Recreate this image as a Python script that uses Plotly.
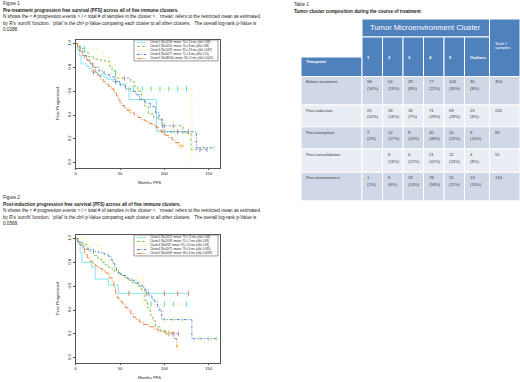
import numpy as np
import plotly.graph_objects as go

W, H = 520, 382
FONT = "Liberation Sans"

# ---------------- data ----------------
clusters = ["Cluster1", "Cluster2", "Cluster3", "Cluster4", "Cluster5"]
colors = ["#86E6F0", "#86C35A", "#FFE17A", "#4F86D8", "#E9864A"]
dashes = ["solid", "3px,2px", "1px,1.5px", "3px,1.5px,1px,1.5px", "5px,1.5px,1px,1.5px"]

pre_legend = [
    "Cluster1 (N=20/58, rmean: 70+/-10 mo, pVal: 0.88)",
    "Cluster2 (N=30/54, rmean: 70+/-8 mo, pVal: 0.88)",
    "Cluster3 (N=10/29, rmean: 95+/-13 mo, pVal: 0.087)",
    "Cluster4 (N=40/77, rmean: 71+/-6 mo, pVal: 0.51)",
    "Cluster5 (N=68/106, rmean: 58+/-5 mo, pVal: 0.0021)",
]
post_legend = [
    "Cluster1 (N=10/25, rmean: 79+/-11 mo, pVal: 0.88)",
    "Cluster2 (N=20/39, rmean: 71+/-7 mo, pVal: 0.83)",
    "Cluster3 (N=8/18, rmean: 91+/-10 mo, pVal: 0.28)",
    "Cluster4 (N=40/71, rmean: 79+/-6 mo, pVal: 0.095)",
    "Cluster5 (N=40/69, rmean: 58+/-6 mo, pVal: 0.0039)",
]

# Figure 1: pre-treatment PFS (months, fraction progression-free)
pre_c1_t = [0, 2, 4, 6, 12, 15, 18, 24, 30, 36, 42, 50, 56, 60, 91, 127]
pre_c1_s = [1.0, 0.95, 0.90, 0.83, 0.81, 0.79, 0.76, 0.74, 0.72, 0.70, 0.68, 0.66, 0.62, 0.53, 0.26, 0.26]
pre_c2_t = [0, 3, 6, 10, 14, 20, 28, 33, 38, 41, 45, 62, 66, 70, 74, 78, 82, 88, 97, 121, 130, 148]
pre_c2_s = [1.0, 0.98, 0.96, 0.93, 0.89, 0.87, 0.86, 0.85, 0.81, 0.77, 0.71, 0.68, 0.64, 0.60, 0.53, 0.47, 0.41, 0.375, 0.31, 0.25, 0.11, 0.11]
pre_c3_t = [0, 3, 25, 31, 38, 42, 49, 53, 57, 131]
pre_c3_s = [1.0, 0.96, 0.93, 0.89, 0.83, 0.76, 0.71, 0.68, 0.62, 0.0]
pre_c4_t = [0, 2, 5, 8, 12, 16, 20, 26, 32, 38, 44, 50, 56, 62, 68, 72, 78, 84, 90, 94, 98, 136, 156]
pre_c4_s = [1.0, 0.97, 0.94, 0.90, 0.86, 0.83, 0.80, 0.77, 0.74, 0.72, 0.68, 0.65, 0.62, 0.60, 0.57, 0.53, 0.50, 0.47, 0.42, 0.36, 0.26, 0.125, 0.125]
pre_c5_t = [0, 2, 4, 6, 8, 10, 13, 16, 19, 22, 25, 28, 31, 34, 37, 40, 43, 46, 48, 50,
            52, 55, 58, 62, 66, 70, 74, 78, 82, 86, 90, 93, 97, 101, 105, 109, 112, 116, 121]
pre_c5_s = [1.0, 0.97, 0.94, 0.92, 0.90, 0.88, 0.86, 0.84, 0.80, 0.76, 0.73, 0.70, 0.68, 0.66, 0.64, 0.62, 0.59, 0.56, 0.53, 0.50,
            0.48, 0.46, 0.44, 0.42, 0.40, 0.38, 0.36, 0.35, 0.33, 0.32, 0.30, 0.27, 0.25, 0.23, 0.21, 0.19, 0.17, 0.14, 0.14]
pre_censor = [
    [20, 45, 100, 115, 127],
    [55, 100, 110, 140, 148],
    [10, 45, 65, 75, 85, 95, 105, 115, 125],
    [30, 60, 110, 120, 145, 156],
    [60, 100, 118, 121],
]

# Figure 2: post-induction PFS
post_c1_t = [0, 2.5, 5, 7, 18, 22, 37, 48, 127]
post_c1_s = [1.0, 0.96, 0.88, 0.80, 0.76, 0.66, 0.61, 0.54, 0.54]
post_c2_t = [0, 3, 8, 12, 16, 20, 25, 29, 33, 37, 41, 44, 48, 52, 56, 59, 63, 67, 71, 74, 78, 81, 84, 87, 90, 95, 101, 116]
post_c2_s = [1.0, 0.97, 0.95, 0.92, 0.89, 0.86, 0.83, 0.80, 0.78, 0.76, 0.74, 0.72, 0.70, 0.69, 0.67, 0.65, 0.63, 0.62, 0.60, 0.57,
             0.48, 0.42, 0.36, 0.31, 0.26, 0.23, 0.20, 0.20]
post_c3_t = [0, 12, 29, 33, 41, 48, 76, 125]
post_c3_s = [1.0, 0.94, 0.88, 0.82, 0.75, 0.67, 0.45, 0.45]
post_c4_t = [0, 3, 6, 9, 20, 26, 32, 37, 40, 42, 44, 46, 49, 52, 56, 59, 63, 67, 71, 75, 78, 82, 86, 89, 92, 94, 97, 131, 159]
post_c4_s = [1.0, 0.97, 0.94, 0.91, 0.89, 0.88, 0.87, 0.85, 0.82, 0.79, 0.76, 0.73, 0.71, 0.69, 0.67, 0.66, 0.65, 0.63, 0.61, 0.59,
             0.57, 0.52, 0.49, 0.47, 0.43, 0.40, 0.32, 0.16, 0.16]
post_c5_t = [0, 2, 4, 7, 10, 13, 16, 19, 22, 26, 30, 34, 38, 41, 43, 45, 47, 50, 53, 56,
             59, 62, 65, 68, 72, 76, 82, 88, 93, 100, 111, 114, 114.5]
post_c5_s = [1.0, 0.97, 0.95, 0.92, 0.87, 0.84, 0.81, 0.79, 0.77, 0.75, 0.73, 0.71, 0.67, 0.64, 0.59, 0.54, 0.50, 0.47, 0.45, 0.42,
             0.40, 0.37, 0.34, 0.32, 0.30, 0.28, 0.26, 0.24, 0.22, 0.21, 0.16, 0.09, 0.09]
post_censor = [
    [60, 80, 100, 115, 127],
    [105, 110, 116],
    [85, 100, 110, 125],
    [100, 110, 120, 140, 150, 159],
    [105, 114.5],
]

x_ticks = [0, 50, 100, 150]
y_ticks = [0.0, 0.2, 0.4, 0.6, 0.8, 1.0]
y_ticktext = ["0.0", "0.2", "0.4", "0.6", "0.8", "1.0"]

# Table 1
tbl_cols = ["1", "2", "3", "4", "5", "Outliers"]
timepoints = ["Before treatment", "Post-induction", "Post-transplant", "Post-consolidation", "Post-maintenance"]
tbl_counts = [
    [58, 54, 29, 77, 106, 30],
    [25, 39, 18, 71, 69, 23],
    [2, 14, 8, 40, 10, 9],
    [None, 8, 6, 21, 12, 4],
    [1, 8, 19, 78, 15, 13],
]
tbl_pct = [
    [16, 15, 8, 22, 30, 8],
    [10, 16, 7, 29, 28, 9],
    [2, 17, 10, 48, 12, 10],
    [None, 16, 12, 41, 24, 8],
    [1, 6, 14, 58, 11, 10],
]
tbl_total = [354, 245, 83, 51, 134]

fig1_text = [
    "Figure 1",
    "<b>Pre-treatment progression free survival (PFS) across all of five immune clusters.</b>",
    "N shows the &lt; # progression events &gt; / &lt; total # of samples in the cluster &gt;.  ‘rmean’ refers to the restricted mean as estimated",
    "by R’s ‘survfit’ function.  ‘pVal’ is the chi² p-Value comparing each cluster to all other clusters.   The overall log-rank p-Value is",
    "0.0288.",
]
fig2_text = [
    "Figure 2",
    "<b>Post-induction progression free survival (PFS) across all of five immune clusters.</b>",
    "N shows the &lt; # progression events &gt; / &lt; total # of samples in the cluster &gt;.  ‘rmean’ refers to the restricted mean as estimated",
    "by R’s ‘survfit’ function.  ‘pVal’ is the chi² p-Value comparing each cluster to all other clusters.   The overall log-rank p-Value is",
    "0.0569.",
]

# ---------------- helpers ----------------
def px(xp):
    return xp / W


def py(yp):
    return 1 - yp / H


def step_at(times, surv, t):
    times = np.asarray(times, dtype=float)
    surv = np.asarray(surv, dtype=float)
    idx = np.searchsorted(times, np.asarray(t, dtype=float), side="right") - 1
    return surv[idx]


fig = go.Figure()
annotations = []
shapes = []

panels = [
    dict(xa="x", ya="y", top=40, bottom=167.5, text=fig1_text, text_top=3.5,
         curves=[(pre_c1_t, pre_c1_s), (pre_c2_t, pre_c2_s), (pre_c3_t, pre_c3_s), (pre_c4_t, pre_c4_s), (pre_c5_t, pre_c5_s)],
         censor=pre_censor, legend=pre_legend),
    dict(xa="x2", ya="y2", top=235, bottom=362.5, text=fig2_text, text_top=197.5,
         curves=[(post_c1_t, post_c1_s), (post_c2_t, post_c2_s), (post_c3_t, post_c3_s), (post_c4_t, post_c4_s), (post_c5_t, post_c5_s)],
         censor=post_censor, legend=post_legend),
]

X_LEFT, X_RIGHT = 75.7, 220.0

for p_i, pan in enumerate(panels):
    xa, ya = pan["xa"], pan["ya"]
    for k in range(5):
        t, s = pan["curves"][k]
        fig.add_trace(go.Scatter(
            x=t, y=s, mode="lines", name=pan["legend"][k],
            line=dict(shape="hv", color=colors[k], width=1, dash=dashes[k]),
            xaxis=xa, yaxis=ya, showlegend=False, hoverinfo="skip"))
        ct = pan["censor"][k]
        fig.add_trace(go.Scatter(
            x=ct, y=step_at(t, s, ct), mode="markers",
            marker=dict(symbol="line-ns-open", size=3.5, line=dict(color=colors[k], width=0.8)),
            xaxis=xa, yaxis=ya, showlegend=False, hoverinfo="skip"))

    # caption text
    for i, line in enumerate(pan["text"]):
        annotations.append(dict(
            x=px(1), y=py(pan["text_top"] + i * 6.6), xref="paper", yref="paper",
            text=line, showarrow=False, xanchor="left", yanchor="middle",
            font=dict(family=FONT, size=4.6, color="#222")))

    # axis titles
    annotations.append(dict(
        x=px((X_LEFT + X_RIGHT) / 2 + 2), y=py(pan["bottom"] + 15), xref="paper", yref="paper",
        text="Months PFS", showarrow=False, xanchor="center", yanchor="middle",
        font=dict(family=FONT, size=4.2, color="#222")))
    annotations.append(dict(
        x=px(58), y=py((pan["top"] + pan["bottom"]) / 2), xref="paper", yref="paper",
        text="Frac Progressed", showarrow=False, textangle=-90, xanchor="center", yanchor="middle",
        font=dict(family=FONT, size=4.4, color="#222")))

    # legend box (R style, top-right inside the frame)
    dref_x, dref_y = xa + " domain", ya + " domain"
    lx0, lx1 = 0.404, 0.986
    ly1, ly0 = 1.0, 0.836
    shapes.append(dict(type="rect", xref=dref_x, yref=dref_y, x0=lx0, x1=lx1, y0=ly0, y1=ly1,
                       line=dict(color="#555", width=0.6), fillcolor="white", layer="above"))
    for k in range(5):
        yy = ly1 - (k + 0.6) * (ly1 - ly0) / 5.2
        shapes.append(dict(type="line", xref=dref_x, yref=dref_y, x0=lx0 + 0.02, x1=lx0 + 0.085,
                           y0=yy, y1=yy, line=dict(color=colors[k], width=1, dash=dashes[k]), layer="above"))
        annotations.append(dict(
            x=lx0 + 0.1, y=yy, xref=dref_x, yref=dref_y, text=pan["legend"][k], showarrow=False,
            xanchor="left", yanchor="middle", font=dict(family=FONT, size=2.7, color="#222")))

axis_common = dict(showline=True, mirror=True, linecolor="#555", linewidth=0.7, showgrid=False,
                   zeroline=False, ticks="outside", ticklen=2, tickwidth=0.6, tickcolor="#555",
                   tickfont=dict(family=FONT, size=4.2, color="#222"))

fig.update_layout(
    xaxis=dict(domain=[px(X_LEFT), px(X_RIGHT)], range=[0, 162.7], tickvals=x_ticks, anchor="y", **axis_common),
    yaxis=dict(domain=[py(167.5), py(40)], range=[-0.04, 1.03], tickvals=y_ticks, ticktext=y_ticktext,
               tickangle=-90, anchor="x", **axis_common),
    xaxis2=dict(domain=[px(X_LEFT), px(X_RIGHT)], range=[0, 162.7], tickvals=x_ticks, anchor="y2", **axis_common),
    yaxis2=dict(domain=[py(362.5), py(235)], range=[-0.04, 1.03], tickvals=y_ticks, ticktext=y_ticktext,
                tickangle=-90, anchor="x2", **axis_common),
)

# ---------------- table (drawn on its own axis, units in px of table) ----------------
col_w = [61, 20.5, 20.5, 20.5, 20.5, 20.5, 25, 30.5]
hdr1_h, hdr2_h, tp_h = 18, 39.5, 19.5
row_h = [28.5, 21.7, 22.3, 23.3, 28.4]
col_x = np.concatenate([[0], np.cumsum(col_w)])
tbl_w = float(col_x[-1])
row_y = hdr1_h + hdr2_h + np.concatenate([[0], np.cumsum(row_h)])
tbl_h = float(row_y[-1])
TBL_LEFT, TBL_TOP = 301, 19

HDR = "#4F81BD"
BAND = ["#D0D8E8", "#E9EDF4"]
TXT = "#3b3b3b"

fig.update_layout(
    xaxis3=dict(domain=[px(TBL_LEFT), px(TBL_LEFT + tbl_w)], range=[0, tbl_w], visible=False, anchor="y3"),
    yaxis3=dict(domain=[py(TBL_TOP + tbl_h), py(TBL_TOP)], range=[tbl_h, 0], visible=False, anchor="x3"),
)


def cell(x0, x1, y0, y1, color):
    shapes.append(dict(type="rect", xref="x3", yref="y3", x0=x0, x1=x1, y0=y0, y1=y1,
                       fillcolor=color, line=dict(color="white", width=1), layer="below"))


def ttext(x, y, s, size=4.2, color=TXT, anchor="left"):
    annotations.append(dict(x=x, y=y, xref="x3", yref="y3", text=s, showarrow=False,
                            xanchor=anchor, yanchor="middle", font=dict(family=FONT, size=size, color=color)))


# header
cell(col_x[1], col_x[7], 0, hdr1_h, HDR)
ttext((col_x[1] + col_x[7]) / 2, hdr1_h / 2 - 0.5, "Tumor Microenvironment Cluster", size=7.6, color="white", anchor="center")
cell(col_x[7], col_x[8], 0, hdr1_h + hdr2_h, HDR)
ttext(col_x[7] + 3, 24.3, "Total #", color="white")
ttext(col_x[7] + 3, 28.9, "samples", color="white")
cell(col_x[0], col_x[1], hdr1_h + hdr2_h - tp_h, hdr1_h + hdr2_h, HDR)
ttext(col_x[0] + 3, 42.6, "<b>Timepoint</b>", color="white")
for j, name in enumerate(tbl_cols):
    cell(col_x[j + 1], col_x[j + 2], hdr1_h, hdr1_h + hdr2_h, HDR)
    ttext(col_x[j + 1] + 3, 38.3, "<b>" + name + "</b>", color="white")

# body
for i, tp in enumerate(timepoints):
    y0, y1 = row_y[i], row_y[i + 1]
    band = BAND[i % 2]
    for j in range(8):
        cell(col_x[j], col_x[j + 1], y0, y1, band)
    ttext(col_x[0] + 3, y0 + 5.5, tp)
    for j in range(6):
        if tbl_counts[i][j] is not None:
            ttext(col_x[j + 1] + 3, y0 + 5.5, str(tbl_counts[i][j]))
            ttext(col_x[j + 1] + 3, y0 + 12, "(" + str(tbl_pct[i][j]) + "%)")
    ttext(col_x[7] + 3, y0 + 5.5, str(tbl_total[i]))

# table captions
annotations.append(dict(x=px(292), y=py(4.5), xref="paper", yref="paper", text="Table 1", showarrow=False,
                        xanchor="left", yanchor="middle", font=dict(family=FONT, size=4.6, color="#222")))
annotations.append(dict(x=px(292), y=py(11.5), xref="paper", yref="paper",
                        text="<b>Tumor cluster composition during the course of treatment</b>", showarrow=False,
                        xanchor="left", yanchor="middle", font=dict(family=FONT, size=4.6, color="#222")))

fig.update_layout(
    width=W, height=H, margin=dict(l=0, r=0, t=0, b=0),
    paper_bgcolor="white", plot_bgcolor="white",
    showlegend=False, annotations=annotations, shapes=shapes,
)

# remove the browser's default 8px body margin so the 520x382 figure fills the window exactly
fig.write_html("out.html", config={"displayModeBar": False},
               post_script="document.body.style.margin='0';document.body.style.overflow='hidden';")
